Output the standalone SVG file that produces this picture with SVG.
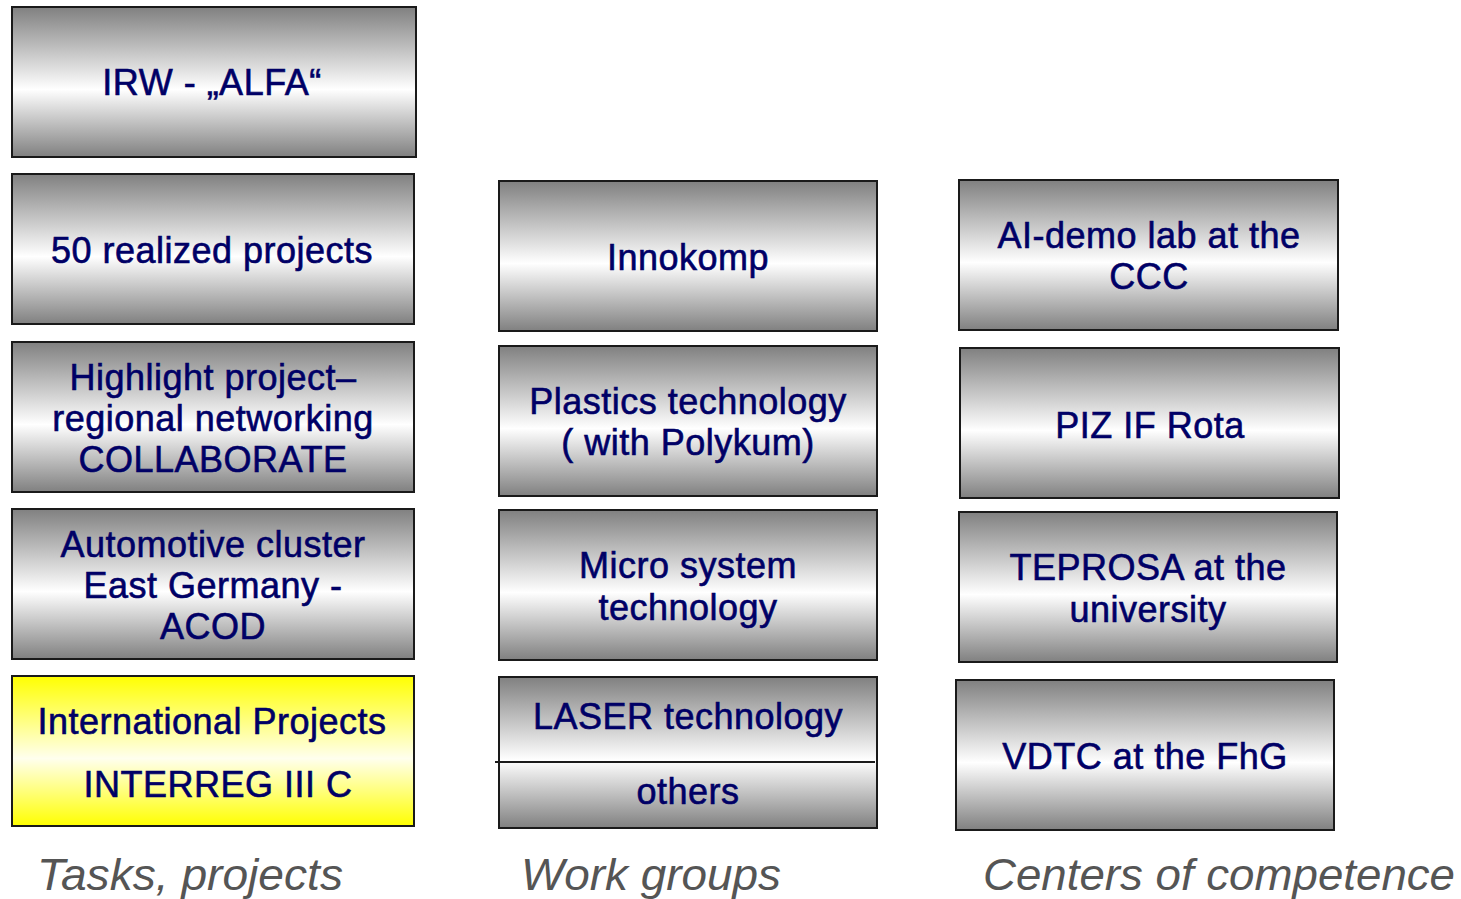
<svg xmlns="http://www.w3.org/2000/svg" width="1461" height="899" viewBox="0 0 1461 899">
<defs>
<linearGradient id="gray" x1="0" y1="0" x2="0" y2="1">
<stop offset="0" stop-color="#808080"/>
<stop offset="0.55" stop-color="#ffffff"/>
<stop offset="1" stop-color="#808080"/>
</linearGradient>
<linearGradient id="yellow" x1="0" y1="0" x2="0" y2="1">
<stop offset="0" stop-color="#ffff00"/>
<stop offset="0.55" stop-color="#ffffee"/>
<stop offset="1" stop-color="#ffff00"/>
</linearGradient>
</defs>
<style>
.box{fill:url(#gray);stroke:#1a1a1a;stroke-width:2}
.ybox{fill:url(#yellow);stroke:#1a1a1a;stroke-width:2}
.t{font-family:"Liberation Sans",Arial,sans-serif;font-size:36px;fill:#000066;stroke:#000066;stroke-width:0.6;text-anchor:middle;letter-spacing:0.5px}
.lbl{font-family:"Liberation Sans",Arial,sans-serif;font-size:45px;font-style:italic;fill:#555555}
</style>
<rect width="1461" height="899" fill="#ffffff"/>
<g id="n-irw"><rect class="box" x="12" y="7" width="404" height="150"/><text class="t" x="212" y="95">IRW - „ALFA“</text></g>
<g id="n-50"><rect class="box" x="12" y="174" width="402" height="150"/><text class="t" x="212" y="263">50 realized projects</text></g>
<g id="n-highlight"><rect class="box" x="12" y="342" width="402" height="150"/><text class="t" x="213" y="390">Highlight project–</text><text class="t" x="213" y="431">regional networking</text><text class="t" x="213" y="472">COLLABORATE</text></g>
<g id="n-auto"><rect class="box" x="12" y="509" width="402" height="150"/><text class="t" x="213" y="557">Automotive cluster</text><text class="t" x="213" y="598">East Germany -</text><text class="t" x="213" y="639">ACOD</text></g>
<g id="n-intl"><rect class="ybox" x="12" y="676" width="402" height="150"/><text class="t" x="212" y="734">International Projects</text><text class="t" x="218" y="797">INTERREG III C</text></g>
<g id="n-innokomp"><rect class="box" x="499" y="181" width="378" height="150"/><text class="t" x="688" y="270">Innokomp</text></g>
<g id="n-plastics"><rect class="box" x="499" y="346" width="378" height="150"/><text class="t" x="688" y="414">Plastics technology</text><text class="t" x="688" y="455">( with Polykum)</text></g>
<g id="n-micro"><rect class="box" x="499" y="510" width="378" height="150"/><text class="t" x="688" y="578">Micro system</text><text class="t" x="688" y="620">technology</text></g>
<g id="n-laser"><rect class="box" x="499" y="677" width="378" height="151"/><line x1="495" y1="762" x2="875" y2="762" stroke="#1a1a1a" stroke-width="2"/><text class="t" x="688" y="729">LASER technology</text><text class="t" x="688" y="804">others</text></g>
<g id="n-aidemo"><rect class="box" x="959" y="180" width="379" height="150"/><text class="t" x="1149" y="248">AI-demo lab at the</text><text class="t" x="1149" y="289">CCC</text></g>
<g id="n-piz"><rect class="box" x="960" y="348" width="379" height="150"/><text class="t" x="1150" y="438">PIZ IF Rota</text></g>
<g id="n-teprosa"><rect class="box" x="959" y="512" width="378" height="150"/><text class="t" x="1148" y="580">TEPROSA at the</text><text class="t" x="1148" y="622">university</text></g>
<g id="n-vdtc"><rect class="box" x="956" y="680" width="378" height="150"/><text class="t" x="1145" y="769">VDTC at the FhG</text></g>
<g id="connectors"></g>
<g id="labels">
<text class="lbl" x="37" y="890" textLength="306" lengthAdjust="spacingAndGlyphs">Tasks, projects</text>
<text class="lbl" x="521" y="890" textLength="260" lengthAdjust="spacingAndGlyphs">Work groups</text>
<text class="lbl" x="983" y="890" textLength="472" lengthAdjust="spacingAndGlyphs">Centers of competence</text>
</g>
</svg>
